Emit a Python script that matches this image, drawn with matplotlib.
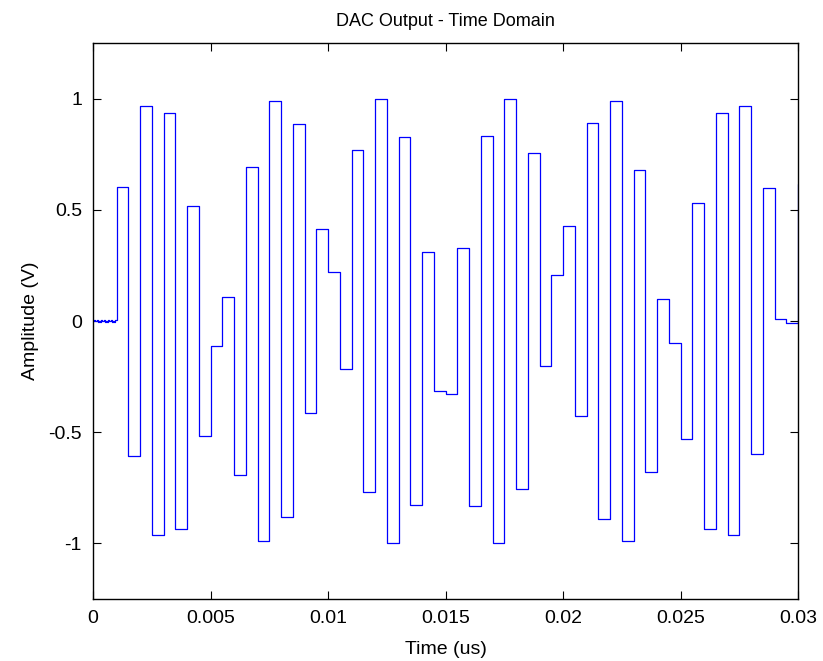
import matplotlib
matplotlib.use("Agg")
import matplotlib.pyplot as plt
import numpy as np

plt.rcParams['font.family'] = ['Liberation Sans', 'DejaVu Sans']

# Settling segment before the first held sample (fine time step, tiny values)
settle_dt = 0.00005
settle_values = [0.000, 0.003, -0.002, 0.004, -0.003, 0.002, -0.004, 0.003,
                 -0.002, 0.004, -0.003, 0.002, -0.003, 0.004, -0.002, 0.003,
                 -0.004, 0.002, -0.003, 0.003]

# Zero-order-hold DAC samples, starting at t0, held for Ts each
t0 = 0.001
Ts = 0.0005
held_values = [0.604, -0.605, 0.965, -0.964, 0.934, -0.934, 0.515, -0.516,
               -0.111, 0.110, -0.694, 0.692, -0.991, 0.991, -0.881, 0.884,
               -0.413, 0.414, 0.219, -0.218, 0.769, -0.769, 1.000, -1.000,
               0.826, -0.826, 0.312, -0.314, -0.326, 0.326, -0.833, 0.832,
               -1.000, 1.000, -0.755, 0.757, -0.204, 0.206, 0.427, -0.426,
               0.889, -0.889, 0.991, -0.991, 0.680, -0.680, 0.098, -0.098,
               -0.529, 0.529, -0.934, 0.934, -0.964, 0.965, -0.598, 0.598,
               0.010, -0.007, 0.616]

x_ticks = [0, 0.005, 0.01, 0.015, 0.02, 0.025, 0.03]
x_tick_labels = ['0', '0.005', '0.01', '0.015', '0.02', '0.025', '0.03']
y_ticks = [-1, -0.5, 0, 0.5, 1]
y_tick_labels = ['-1', '-0.5', '0', '0.5', '1']

t_settle = np.arange(len(settle_values)) * settle_dt
t_held = t0 + np.arange(len(held_values)) * Ts
t = np.concatenate([t_settle, t_held, [t_held[-1] + Ts]])
v = np.concatenate([settle_values, held_values, [held_values[-1]]])

fig = plt.figure(figsize=(8.23, 6.61), dpi=100)
ax = fig.add_axes([93 / 823, 1 - 599 / 661, 705 / 823, 556 / 661])

ax.plot(t, v, drawstyle='steps-post', color='#0000ff', linewidth=0.9)

ax.set_xlim(0, 0.03)
ax.set_ylim(-1.25, 1.25)
ax.set_xticks(x_ticks)
ax.set_xticklabels(x_tick_labels)
ax.set_yticks(y_ticks)
ax.set_yticklabels(y_tick_labels)

ax.tick_params(direction='in', top=True, right=True, length=6, width=0.8,
               labelsize=14, pad=8)
for s in ax.spines.values():
    s.set_linewidth(1.0)

ax.set_title('DAC Output - Time Domain', fontsize=13, pad=12)
ax.set_xlabel('Time (us)', fontsize=14, labelpad=10)
ax.set_ylabel('Amplitude (V)', fontsize=14, labelpad=7)

fig.savefig('out.png', dpi=100)
